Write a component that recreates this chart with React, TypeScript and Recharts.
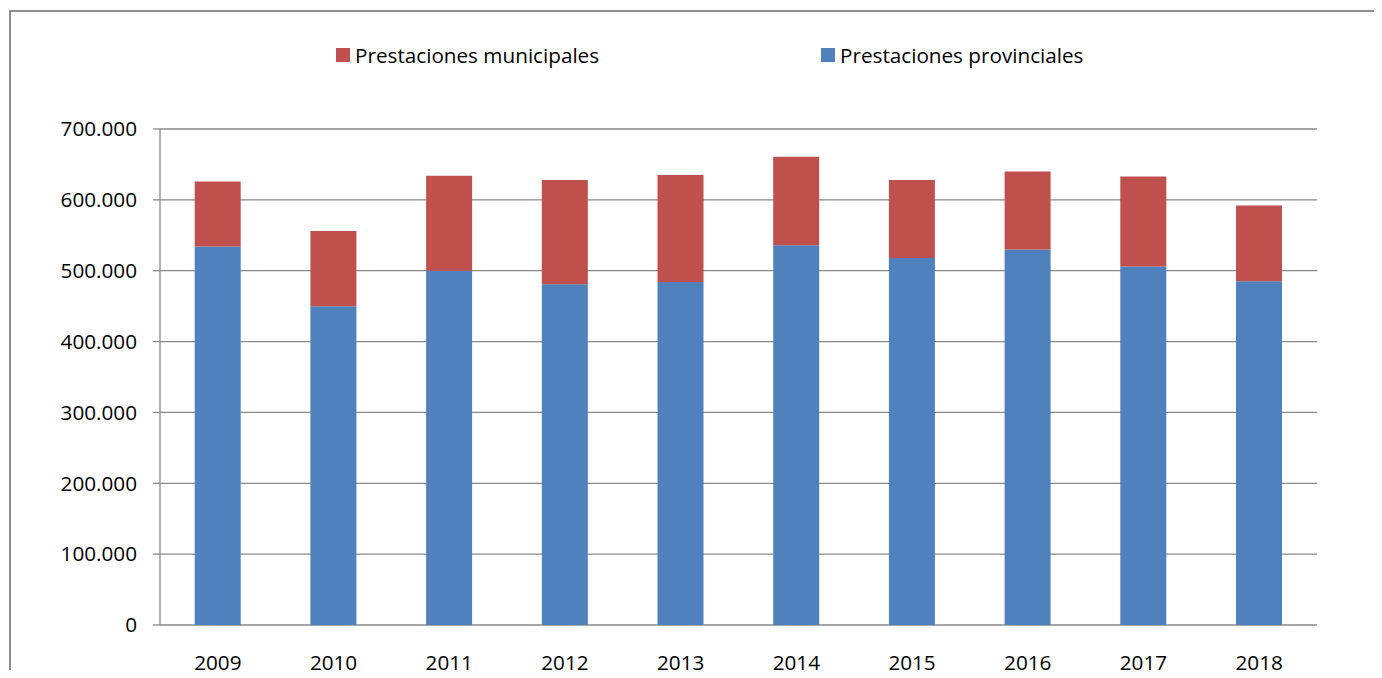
import {
  Bar,
  BarChart,
  CartesianGrid,
  XAxis,
  YAxis,
} from "recharts";

const years = ["2009", "2010", "2011", "2012", "2013", "2014", "2015", "2016", "2017", "2018"];
const provinciales = [534000, 450000, 500000, 481000, 484000, 536000, 518000, 530000, 506000, 485000];
const municipales = [92000, 106000, 134000, 147000, 151000, 125000, 110000, 110000, 127000, 107000];
const yTicks = [0, 100000, 200000, 300000, 400000, 500000, 600000, 700000];
const boundaryTicks = [0, 1, 2, 3, 4, 5, 6, 7, 8, 9, 10];

const data = years.map((year, i) => ({
  year,
  provinciales: provinciales[i],
  municipales: municipales[i],
}));

const legendItems = [
  { name: "Prestaciones municipales", color: "#C0504D" },
  { name: "Prestaciones provinciales", color: "#4F81BD" },
];

const FONT = "'Open Sans', sans-serif";
const AXIS = "#898989";
const FS = 20.7;

const fmt = (v: number) => String(v).replace(/\B(?=(\d{3})+(?!\d))/g, ".");

function LegendBox() {
  return (
    <div
      style={{
        position: "absolute",
        top: 40,
        left: 336,
        display: "flex",
        fontFamily: FONT,
        fontSize: FS,
        lineHeight: "30px",
        color: "#000",
      }}
    >
      {legendItems.map((item) => (
        <div key={item.name} style={{ display: "flex", alignItems: "center", width: 485 }}>
          <span style={{ display: "inline-block", width: 14, height: 14, background: item.color, marginRight: 5 }} />
          <span>{item.name}</span>
        </div>
      ))}
    </div>
  );
}

export default function App() {
  return (
    <div style={{ position: "relative", margin: -8, width: 1382, height: 678, overflow: "hidden", background: "#fff" }}>
      <div
        style={{
          position: "absolute",
          left: 9,
          top: 10,
          width: 1420,
          height: 720,
          border: "2px solid #8e8e8e",
        }}
      />
      <BarChart
        width={1382}
        height={678}
        data={data}
        margin={{ top: 129, right: 65, left: 0, bottom: 0 }}
        barCategoryGap="30%"
        style={{ fontFamily: FONT }}
      >
        <CartesianGrid vertical={false} stroke={AXIS} strokeWidth={1.3} />
        <XAxis
          xAxisId="bounds"
          type="number"
          domain={[0, 10]}
          ticks={boundaryTicks}
          tick={false}
          tickLine={{ stroke: AXIS, strokeWidth: 1.3 }}
          tickSize={6}
          axisLine={{ stroke: AXIS, strokeWidth: 1.3 }}
          height={0}
        />
        <XAxis
          xAxisId="cat"
          dataKey="year"
          tickLine={false}
          axisLine={false}
          tickSize={6}
          tickMargin={24}
          height={53}
          tick={{ fill: "#000", fontSize: FS, fontFamily: FONT }}
        />
        <YAxis
          width={160}
          domain={[0, 700000]}
          ticks={yTicks}
          tickFormatter={fmt}
          tickSize={7}
          tickMargin={16}
          tickLine={{ stroke: AXIS, strokeWidth: 1.3 }}
          axisLine={{ stroke: AXIS, strokeWidth: 1.3 }}
          tick={{ fill: "#000", fontSize: FS, fontFamily: FONT }}
        />
        <Bar xAxisId="cat" dataKey="provinciales" stackId="a" fill="#4F81BD" isAnimationActive={false} />
        <Bar xAxisId="cat" dataKey="municipales" stackId="a" fill="#C0504D" isAnimationActive={false} />
      </BarChart>
      <LegendBox />
    </div>
  );
}
